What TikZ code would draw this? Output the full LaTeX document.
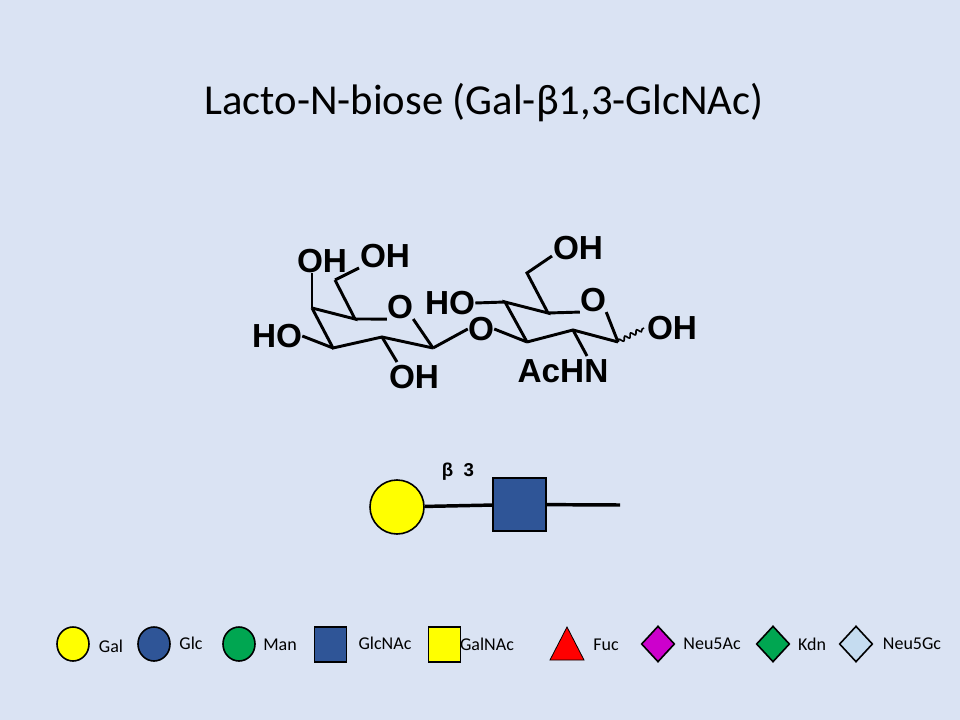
\documentclass[tikz,border=0pt]{standalone}
\usepackage{fontspec}
\setmainfont{Carlito}
\newfontfamily\chemfont{Liberation Sans}
\usetikzlibrary{shapes.geometric,decorations.pathmorphing}
\definecolor{bgblue}{HTML}{DAE3F3}
\definecolor{galyellow}{HTML}{FFFF00}
\definecolor{glcblue}{HTML}{2F5597}
\definecolor{mangreen}{HTML}{00A651}
\definecolor{neupurple}{HTML}{CC00CC}
\definecolor{gcblue}{HTML}{C5DCF0}
\tikzset{
  bond/.style={line width=2.2pt},
  atom/.style={font=\chemfont\bfseries\fontsize{25}{25}\selectfont,inner sep=0pt},
  link/.style={line width=2.6pt},
  leg/.style={draw=black,line width=1.2pt},
  legtext/.style={font=\fontsize{13.5}{13.5}\selectfont,inner sep=0pt},
}
\begin{document}
\begin{tikzpicture}[x=0.75pt,y=-0.75pt]
  \fill [bgblue] (0,0) rectangle (960,720);
  \useasboundingbox (0,0) rectangle (960,720);
  \node [font=\fontsize{32}{32}\selectfont] (title) at (484,103) {Lacto-N-biose (Gal-β1,3-GlcNAc)};
  % ring atoms
  \coordinate (a1) at (312,308);
  \coordinate (a2) at (333,348);
  \coordinate (a3) at (382,337);
  \coordinate (a4) at (433,348);
  \coordinate (a5) at (355,319);
  \coordinate (a6) at (335,280);
  \coordinate (b1) at (527,342);
  \coordinate (b2) at (505,302);
  \coordinate (b3) at (548,313);
  \coordinate (b4) at (527,273);
  \coordinate (b5) at (618,342);
  \coordinate (b6) at (573,330);
  \node [atom] (oh1) at (322,261) {OH};
  \node [atom] (oh2) at (385,256) {OH};
  \node [atom] (o1) at (400,307) {O};
  \node [atom] (ho1) at (277,336) {HO};
  \node [atom] (oh3) at (414,377) {OH};
  \node [atom] (o2) at (481,329) {O};
  \node [atom] (ho2) at (450,303) {HO};
  \node [atom] (oh4) at (578,248) {OH};
  \node [atom] (o3) at (593,300) {O};
  \node [atom] (oh5) at (672,328) {OH};
  \node [atom] (nh) at (563,371) {AcHN};
  % left ring
  \draw [bond] (a1) -- (a2) -- (a3) -- (a4);
  \draw [bond] (a1) -- (a5) -- (a6);
  \draw [bond] (a1) -- (oh1.south -| a1);
  \draw [bond] (a6) -- (359,268);
  \draw [bond] (a5) -- (o1.south west);
  \draw [bond] (o1.south east) -- (a4);
  \draw [bond] (a2) -- (ho1.east);
  \draw [bond] (a3) -- (397,362);
  \draw [bond] (a4) -- (o2.west);
  % right ring
  \draw [bond] (o2.east) -- (b1);
  \draw [bond] (b1) -- (b2) -- (b3) -- (b4) -- (552,256);
  \draw [bond] (ho2.east) -- (b2);
  \draw [bond] (b3) -- (o3.south west);
  \draw [bond] (o3.south east) -- (b5);
  \draw [bond] (b5) -- (b6) -- (b1);
  \draw [bond] (b6) -- (587,356);
  \draw [line width=1.2pt,decorate,decoration={snake,amplitude=1.5pt,segment length=5pt}] (b5) -- ([xshift=-2pt]oh5.west);
  % symbol
  \node [circle,leg,fill=galyellow,minimum size=40.5pt,inner sep=0pt] (gal) at (397,507) {};
  \node [rectangle,leg,fill=glcblue,minimum size=40pt,inner sep=0pt] (glcnac) at (519.5,504.5) {};
  \coordinate (red) at (620,505);
  \draw [link] (gal) -- (glcnac);
  \draw [link] (glcnac) -- (red);
  \node [font=\chemfont\bfseries\fontsize{14}{14}\selectfont] (lbl) at (458,472) {β\ \ 3};
  % legend
  \node [ellipse,leg,fill=galyellow,minimum width=24pt,minimum height=25.5pt] (lgal) at (73,644) {};
  \node [legtext] (tgal) at (111,646) {Gal};
  \node [ellipse,leg,fill=glcblue,minimum width=24pt,minimum height=25.5pt] (lglc) at (154,644) {};
  \node [legtext] (tglc) at (191,643) {Glc};
  \node [ellipse,leg,fill=mangreen,minimum width=24pt,minimum height=25.5pt] (lman) at (239,644) {};
  \node [legtext] (tman) at (280,645) {Man};
  \node [rectangle,leg,fill=glcblue,minimum width=24pt,minimum height=26pt,inner sep=0pt] (lglcnac) at (330.5,644.5) {};
  \node [legtext] (tglcnac) at (385,643) {GlcNAc};
  \node [rectangle,leg,fill=galyellow,minimum width=24pt,minimum height=26pt,inner sep=0pt] (lgalnac) at (444.5,644.5) {};
  \node [legtext] (tgalnac) at (487,644) {GalNAc};
  \fill [red,draw=black,line width=0.6pt] (550,660) -- (567,627) -- (584,660) -- cycle;
  \node [legtext] (tfuc) at (606,645) {Fuc};
  \node [diamond,leg,fill=neupurple,minimum width=25pt,minimum height=27pt,inner sep=0pt] (lneu) at (658,644) {};
  \node [legtext] (tneu) at (712,644) {Neu5Ac};
  \node [diamond,leg,fill=mangreen,minimum width=25pt,minimum height=27pt,inner sep=0pt] (lkdn) at (773,644) {};
  \node [legtext] (tkdn) at (812,644) {Kdn};
  \node [diamond,leg,fill=gcblue,minimum width=25pt,minimum height=27pt,inner sep=0pt] (lgc) at (856,644) {};
  \node [legtext] (tgc) at (912,644) {Neu5Gc};
\end{tikzpicture}
\end{document}
